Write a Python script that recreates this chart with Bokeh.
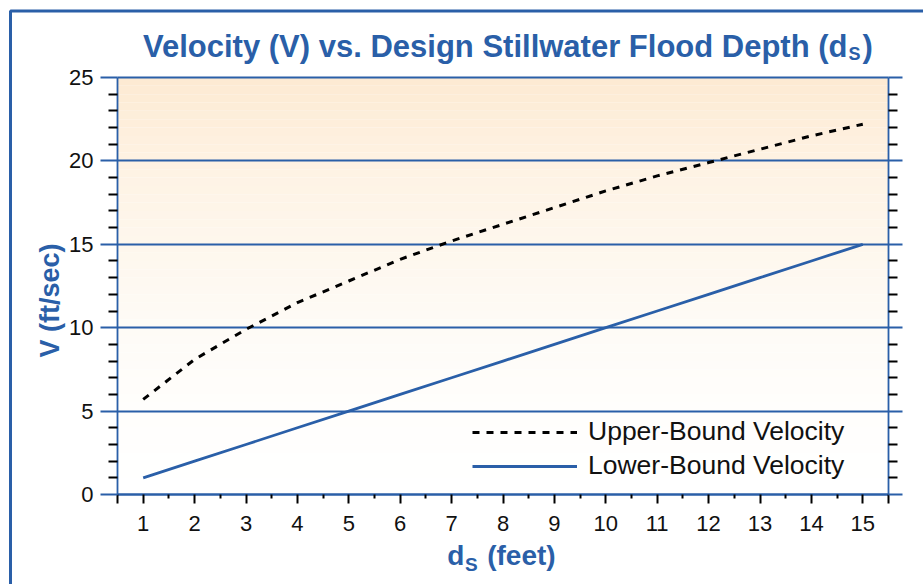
import math
from bokeh.plotting import figure
from bokeh.models import FixedTicker, LinearAxis, Label, BoxAnnotation
from bokeh.embed import file_html
from bokeh.resources import INLINE

# ---------------- data ----------------
depth_ft = [1, 2, 3, 4, 5, 6, 7, 8, 9, 10, 11, 12, 13, 14, 15]
upper_bound_velocity = [5.7, 8.1, 9.9, 11.5, 12.8, 14.1, 15.2, 16.2, 17.2, 18.2, 19.1, 19.9, 20.7, 21.5, 22.2]
lower_bound_velocity = [1, 2, 3, 4, 5, 6, 7, 8, 9, 10, 11, 12, 13, 14, 15]

x_ticks = [1, 2, 3, 4, 5, 6, 7, 8, 9, 10, 11, 12, 13, 14, 15]
x_tick_labels = ["1", "2", "3", "4", "5", "6", "7", "8", "9", "10", "11", "12", "13", "14", "15"]
y_ticks = [0, 5, 10, 15, 20, 25]
y_tick_labels = ["0", "5", "10", "15", "20", "25"]

# axis extents of the chart
x_lo, x_hi = 0.5, 15.5
y_lo, y_hi = 0, 25

BLUE = "#2A5FA8"
FONT = "Liberation Sans"

# ---------------- layout (pixels) ----------------
W, H = 923, 584
FRAME_L, FRAME_R, FRAME_T, FRAME_B = 117, 888, 77, 494
px_per_x = (FRAME_R - FRAME_L) / (x_hi - x_lo)
px_per_y = (FRAME_B - FRAME_T) / (y_hi - y_lo)
view_x = (x_lo - FRAME_L / px_per_x, x_hi + (W - FRAME_R) / px_per_x)
view_y = (y_lo - (H - FRAME_B) / px_per_y, y_hi + FRAME_T / px_per_y)

def dx(px):   # screen x -> data x
    return x_lo + (px - FRAME_L) / px_per_x
def dy(py):   # screen y -> data y
    return y_lo + (FRAME_B - py) / px_per_y

p = figure(width=W, height=H, x_range=view_x, y_range=view_y,
           output_backend="svg", toolbar_location=None,
           min_border_left=0, min_border_right=0, min_border_top=0, min_border_bottom=0)
p.outline_line_color = None
p.background_fill_color = "white"
p.border_fill_color = "white"

# background gradient (style only)
stops = [(0, (255, 255, 255)), (5, (255, 254, 252)), (10, (254, 251, 246)),
         (15, (254, 247, 237)), (20, (254, 242, 227)), (25, (253, 234, 210))]
def grad(v):
    for (a, ca), (b, cb) in zip(stops[:-1], stops[1:]):
        if a <= v <= b:
            t = (v - a) / (b - a)
            c = [round(ca[i] + (cb[i] - ca[i]) * t) for i in range(3)]
            return "#%02x%02x%02x" % tuple(c)
    return "#ffffff"
n_bands = 50
band_b = [y_lo + (y_hi - y_lo) * i / n_bands for i in range(n_bands)]
band_t = [y_lo + (y_hi - y_lo) * (i + 1) / n_bands for i in range(n_bands)]
band_c = [grad((b + t) / 2) for b, t in zip(band_b, band_t)]
bands = p.quad(left=x_lo, right=x_hi, bottom=band_b, top=band_t, fill_color=band_c, line_color=None)
bands.level = "image"

# grid
p.xgrid.visible = False
p.ygrid.ticker = FixedTicker(ticks=y_ticks)
p.ygrid.bounds = (y_lo, y_hi)
p.ygrid.cross_bounds = (x_lo, x_hi)
p.ygrid.grid_line_color = BLUE
p.ygrid.grid_line_width = 1.8

y_minor = [v for v in range(y_lo, y_hi + 1) if v not in y_ticks]
x_minor = [k + 0.5 for k in x_ticks[:-1]]

# left axis
la = p.yaxis[0]
la.fixed_location = x_lo
la.bounds = (y_lo, y_hi)
la.ticker = FixedTicker(ticks=y_ticks, minor_ticks=y_minor)
la.major_label_overrides = {t: s for t, s in zip(y_ticks, y_tick_labels)}
la.axis_line_color = BLUE
la.axis_line_width = 1.8
la.major_tick_line_color = BLUE
la.major_tick_line_width = 1.8
la.major_tick_in = 0
la.major_tick_out = 17
la.minor_tick_line_color = "black"
la.minor_tick_line_width = 2
la.minor_tick_in = 0
la.minor_tick_out = 9
la.major_label_standoff = 7
la.major_label_text_font = FONT
la.major_label_text_font_size = "22px"
la.major_label_text_color = "#111111"

# bottom axis
ba = p.xaxis[0]
ba.fixed_location = y_lo
ba.bounds = (x_lo, x_hi)
ba.ticker = FixedTicker(ticks=[x_lo] + x_ticks + [x_hi], minor_ticks=x_minor)
ov = {t: s for t, s in zip(x_ticks, x_tick_labels)}
ov[x_lo] = ""
ov[x_hi] = ""
ba.major_label_overrides = ov
ba.axis_line_color = BLUE
ba.axis_line_width = 1.8
ba.major_tick_line_color = "black"
ba.major_tick_line_width = 2
ba.major_tick_in = 0
ba.major_tick_out = 9
ba.minor_tick_line_color = "black"
ba.minor_tick_line_width = 2
ba.minor_tick_in = 0
ba.minor_tick_out = 4
ba.major_label_standoff = 12
ba.major_label_text_font = FONT
ba.major_label_text_font_size = "22px"
ba.major_label_text_color = "#111111"

# right axis
ra = LinearAxis(ticker=FixedTicker(ticks=y_ticks, minor_ticks=y_minor),
                fixed_location=x_hi, bounds=(y_lo, y_hi),
                major_label_overrides={t: "" for t in y_ticks})
ra.axis_line_color = BLUE
ra.axis_line_width = 1.8
ra.major_tick_line_color = BLUE
ra.major_tick_line_width = 1.8
ra.major_tick_in = 0
ra.major_tick_out = 14
ra.minor_tick_line_color = "black"
ra.minor_tick_line_width = 2
ra.minor_tick_in = 0
ra.minor_tick_out = 9
ra.major_label_text_font_size = "10px"
p.add_layout(ra, "right")

# series
p.line(depth_ft, upper_bound_velocity, line_color="black", line_width=3, line_dash="7 7",
       legend_label="Upper-Bound Velocity")
p.line(depth_ft, lower_bound_velocity, line_color=BLUE, line_width=2.8,
       legend_label="Lower-Bound Velocity")

leg = p.legend[0]
leg.location = (472, 103)
leg.border_line_color = None
leg.background_fill_alpha = 0
leg.padding = 0
leg.margin = 0
leg.glyph_width = 105
leg.glyph_height = 20
leg.label_standoff = 11
leg.spacing = 3
leg.label_text_font = FONT
leg.label_text_font_size = "26.5px"
leg.label_text_color = "#111111"

# outer frame (decoration)
p.add_layout(BoxAnnotation(left=dx(10), right=dx(2000), top=dy(10.5), bottom=dy(2000),
                           fill_alpha=0, line_alpha=1, line_color=BLUE, line_width=3))

# title with subscript
p.add_layout(Label(x=dx(847), y=dy(46), text="Velocity (V) vs. Design Stillwater Flood Depth (d",
                   text_align="right", text_baseline="alphabetic", text_font=FONT,
                   text_font_style="bold", text_font_size="31px", text_color=BLUE))
p.add_layout(Label(x=dx(848), y=dy(53), text="S", text_align="left", text_baseline="alphabetic",
                   text_font=FONT, text_font_style="bold", text_font_size="18px", text_color=BLUE))
p.add_layout(Label(x=dx(862), y=dy(46), text=")", text_align="left", text_baseline="alphabetic",
                   text_font=FONT, text_font_style="bold", text_font_size="31px", text_color=BLUE))

# y axis label
p.add_layout(Label(x=dx(49), y=dy(300), text="V (ft/sec)", angle=math.pi / 2,
                   text_align="center", text_baseline="middle", text_font=FONT,
                   text_font_style="bold", text_font_size="27px", text_color=BLUE))

# x axis label with subscript
p.add_layout(Label(x=dx(446.7), y=dy(555), text="d", text_align="left", text_baseline="alphabetic",
                   text_font=FONT, text_font_style="bold", text_font_size="28px", text_color=BLUE))
p.add_layout(Label(x=dx(464.5), y=dy(564), text="S", text_align="left", text_baseline="alphabetic",
                   text_font=FONT, text_font_style="bold", text_font_size="19px", text_color=BLUE))
p.add_layout(Label(x=dx(486.7), y=dy(555), text="(feet)", text_align="left", text_baseline="alphabetic",
                   text_font=FONT, text_font_style="bold", text_font_size="28px", text_color=BLUE))

open("out.html", "w").write(file_html(p, INLINE))
